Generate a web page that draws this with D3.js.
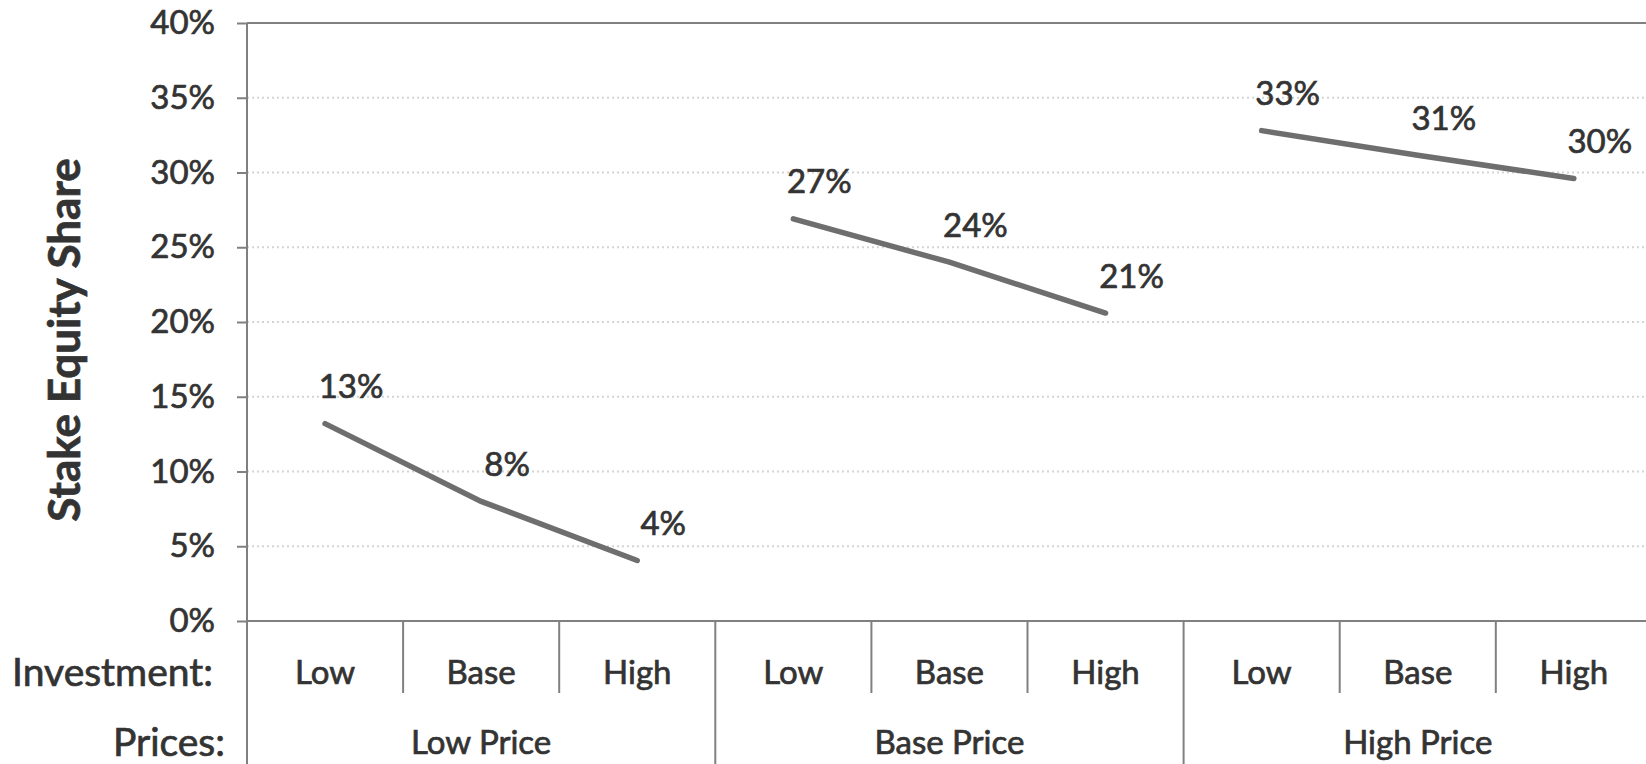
<!DOCTYPE html>
<html>
<head>
<meta charset="utf-8">
<script src="https://cdn.jsdelivr.net/npm/d3@7"></script>
<style>
  html, body { margin: 0; padding: 0; background: #fff; }
  svg { display: block; }
  text { font-family: Lato, "Open Sans", sans-serif; fill: #333; stroke: #333; stroke-width: 0.7px; }
</style>
</head>
<body>
<svg id="chart" width="1646" height="764"></svg>
<script>
// chart data
var priceGroups = ['Low Price', 'Base Price', 'High Price'];
var investLevels = ['Low', 'Base', 'High'];
var lowPriceShare = [13.2, 8.0, 4.05];
var basePriceShare = [26.9, 24.0, 20.6];
var highPriceShare = [32.8, 31.15, 29.6];
var yTicks = [0, 5, 10, 15, 20, 25, 30, 35, 40];

var series = [lowPriceShare, basePriceShare, highPriceShare];

var svg = d3.select('#chart'),
    width = +svg.attr('width'),
    height = +svg.attr('height');

var plotLeft = 247, plotTop = 23, plotBottom = 621,
    cell = 156.1,
    row1 = 693;

var keys = [];
priceGroups.forEach(function(p) {
    investLevels.forEach(function(i) { keys.push(p + '|' + i); });
});

var x = d3.scaleBand().domain(keys).range([plotLeft, plotLeft + cell * keys.length]).padding(0);
var y = d3.scaleLinear().domain([0, 40]).range([plotBottom, plotTop]);

// dotted gridlines
svg.append('g')
    .selectAll('line')
    .data(yTicks.filter(function(t) { return t > 0 && t < 40; }))
    .enter().append('line')
    .attr('x1', plotLeft).attr('x2', width)
    .attr('y1', function(d) { return y(d); })
    .attr('y2', function(d) { return y(d); })
    .attr('stroke', '#d4d4d4')
    .attr('stroke-width', 2)
    .attr('stroke-dasharray', '2,3');

// top border and baseline
[40, 0].forEach(function(v) {
    svg.append('line')
        .attr('x1', plotLeft).attr('x2', width)
        .attr('y1', y(v)).attr('y2', y(v))
        .attr('stroke', '#808080').attr('stroke-width', 2);
});

// y axis
var yAxis = d3.axisLeft(y)
    .tickValues(yTicks)
    .tickSize(10)
    .tickPadding(22)
    .tickFormat(function(d) { return d + '%'; });

var ga = svg.append('g').attr('transform', 'translate(' + plotLeft + ',0)').call(yAxis);
ga.select('.domain').remove();
ga.selectAll('.tick line').attr('stroke', '#808080').attr('stroke-width', 2);
ga.selectAll('.tick text')
    .attr('font-size', 33)
    .attr('fill', '#333')
    .style('font-family', 'Lato, sans-serif');

// axis line runs down through the category table
svg.append('line')
    .attr('x1', plotLeft).attr('x2', plotLeft)
    .attr('y1', plotTop).attr('y2', height)
    .attr('stroke', '#808080').attr('stroke-width', 2);

// category table dividers
keys.forEach(function(k, idx) {
    if (idx === 0) return;
    var groupEdge = idx % investLevels.length === 0;
    svg.append('line')
        .attr('x1', x(k)).attr('x2', x(k))
        .attr('y1', plotBottom).attr('y2', groupEdge ? height : row1)
        .attr('stroke', '#808080').attr('stroke-width', 2);
});

// investment labels
svg.append('g')
    .selectAll('text')
    .data(keys)
    .enter().append('text')
    .attr('x', function(d) { return x(d) + x.bandwidth() / 2; })
    .attr('y', 672)
    .attr('dy', '0.35em')
    .attr('text-anchor', 'middle')
    .attr('font-size', 33)
    .text(function(d) { return d.split('|')[1]; });

// price labels
svg.append('g')
    .selectAll('text')
    .data(priceGroups)
    .enter().append('text')
    .attr('x', function(d) { return x(d + '|' + investLevels[1]) + x.bandwidth() / 2; })
    .attr('y', 742)
    .attr('dy', '0.35em')
    .attr('text-anchor', 'middle')
    .attr('font-size', 33)
    .text(function(d) { return d; });

// row headers
svg.append('text').attr('x', 213).attr('y', 672).attr('dy', '0.35em')
    .attr('text-anchor', 'end').attr('font-size', 39).text('Investment:');
svg.append('text').attr('x', 225).attr('y', 742).attr('dy', '0.35em')
    .attr('text-anchor', 'end').attr('font-size', 39).text('Prices:');

// y title
svg.append('text')
    .attr('transform', 'translate(65,340) rotate(-90)')
    .attr('text-anchor', 'middle')
    .attr('dy', '0.35em')
    .attr('font-size', 44)
    .attr('font-weight', 'bold')
    .text('Stake Equity Share');

// lines, one per price scenario
var line = d3.line()
    .x(function(d) { return x(d.key) + x.bandwidth() / 2; })
    .y(function(d) { return y(d.value); });

series.forEach(function(vals, gi) {
    var pts = vals.map(function(v, ii) {
        return { key: priceGroups[gi] + '|' + investLevels[ii], value: v };
    });
    svg.append('path')
        .datum(pts)
        .attr('d', line)
        .attr('fill', 'none')
        .attr('stroke', '#6e6e6e')
        .attr('stroke-width', 5.5)
        .attr('stroke-linecap', 'round');

    svg.append('g')
        .selectAll('text')
        .data(pts)
        .enter().append('text')
        .attr('x', function(d) { return x(d.key) + x.bandwidth() / 2 + 26; })
        .attr('y', function(d) { return y(d.value) - 37; })
        .attr('dy', '0.35em')
        .attr('text-anchor', 'middle')
        .attr('font-size', 33)
        .text(function(d) { return Math.round(d.value) + '%'; });
});
</script>
</body>
</html>
